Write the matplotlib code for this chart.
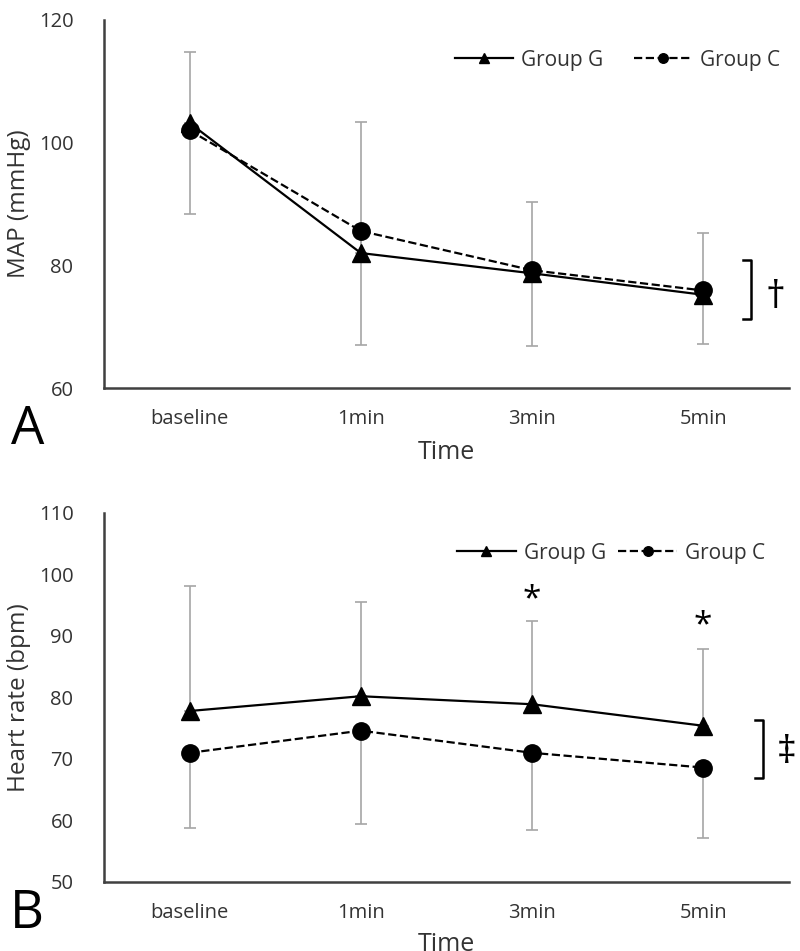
import numpy as np
import matplotlib
matplotlib.use("Agg")
import matplotlib.pyplot as plt

plt.rcParams['font.family'] = ['Open Sans', 'DejaVu Sans']

times = ["baseline", "1min", "3min", "5min"]

# panel A: MAP
map_g = [103.2, 82.0, 78.7, 75.2]
map_g_sd = [11.5, 21.4, 11.6, 10.0]
map_c = [102.0, 85.6, 79.2, 75.9]
map_c_sd = [13.6, 18.6, 12.4, 8.8]

# panel B: heart rate
hr_g = [77.8, 80.2, 78.9, 75.4]
hr_g_sd = [20.4, 15.3, 13.5, 12.4]
hr_c = [71.0, 74.6, 71.0, 68.6]
hr_c_sd = [12.2, 15.2, 12.6, 11.5]

star_idx = [2, 3]
star_y = [95.8, 91.7]

fig = plt.figure(figsize=(8, 9.51), dpi=100)
ax1 = fig.add_axes([0.13, 0.592, 0.856, 0.387])
ax2 = fig.add_axes([0.13, 0.0726, 0.856, 0.388])

x = np.arange(len(times))
spine_col = "#404040"
err_col = "#a6a6a6"
txt_col = "#333333"


def panel(ax, g, g_sd, c, c_sd, ylim, yticks, ylabel, legend_spacing, legend_x):
    zeros = np.zeros(len(g))
    ax.errorbar(x, g, yerr=[zeros, g_sd], fmt="none", ecolor=err_col,
                elinewidth=1.2, capsize=4, capthick=1.2, zorder=1)
    ax.errorbar(x, c, yerr=[c_sd, zeros], fmt="none", ecolor=err_col,
                elinewidth=1.2, capsize=4, capthick=1.2, zorder=1)
    ax.plot(x, g, "-", color="black", lw=1.6, marker="^", ms=12.5,
            label="Group G", zorder=3)
    ax.plot(x, c, "--", color="black", lw=1.6, marker="o", ms=12.5,
            label="Group C", zorder=3)
    ax.set_xlim(-0.5, 3.5)
    ax.set_ylim(*ylim)
    ax.set_yticks(yticks)
    ax.set_xticks(x)
    ax.set_xticklabels(times)
    ax.tick_params(length=0, labelsize=14.5, colors=txt_col)
    ax.tick_params(axis="x", pad=15)
    ax.tick_params(axis="y", pad=22)
    for s in ["top", "right"]:
        ax.spines[s].set_visible(False)
    for s in ["left", "bottom"]:
        ax.spines[s].set_color(spine_col)
        ax.spines[s].set_linewidth(1.8)
    ax.set_ylabel(ylabel, fontsize=17.5, color=txt_col)
    ax.yaxis.set_label_coords(-0.107, 0.5)
    ax.set_xlabel("Time", fontsize=18, color=txt_col)
    leg = ax.legend(ncol=2, frameon=False, loc="upper right",
                    bbox_to_anchor=(legend_x, 0.97), fontsize=15,
                    handlelength=2.8, columnspacing=legend_spacing,
                    handletextpad=0.4, markerscale=0.55)
    for t in leg.get_texts():
        t.set_color(txt_col)


panel(ax1, map_g, map_g_sd, map_c, map_c_sd, (60, 120), [60, 80, 100, 120],
      "MAP (mmHg)", 1.45, 1.015)
ax1.xaxis.set_label_coords(0.5, -0.14)

panel(ax2, hr_g, hr_g_sd, hr_c, hr_c_sd, (50, 110), np.arange(50, 111, 10),
      "Heart rate (bpm)", 0.6, 0.993)
ax2.xaxis.set_label_coords(0.5, -0.135)

# significance markers
ax1.plot([3.23, 3.28, 3.28, 3.23], [80.8, 80.8, 71.2, 71.2], color="black",
         lw=1.8, clip_on=False)
ax1.text(3.42, 74.6, "\u2020", fontsize=28, ha="center", va="center")

ax2.plot([3.30, 3.35, 3.35, 3.30], [76.4, 76.4, 66.9, 66.9], color="black",
         lw=1.8, clip_on=False)
ax2.text(3.49, 70.9, "\u2021", fontsize=28, ha="center", va="center")

for i, yv in zip(star_idx, star_y):
    ax2.text(x[i], yv, "*", fontsize=24, ha="center", va="center")

fig.text(0.034, 0.548, "A", fontsize=38, ha="center", va="center")
fig.text(0.034, 0.039, "B", fontsize=38, ha="center", va="center")

fig.savefig("out.png", dpi=100, facecolor="white")
